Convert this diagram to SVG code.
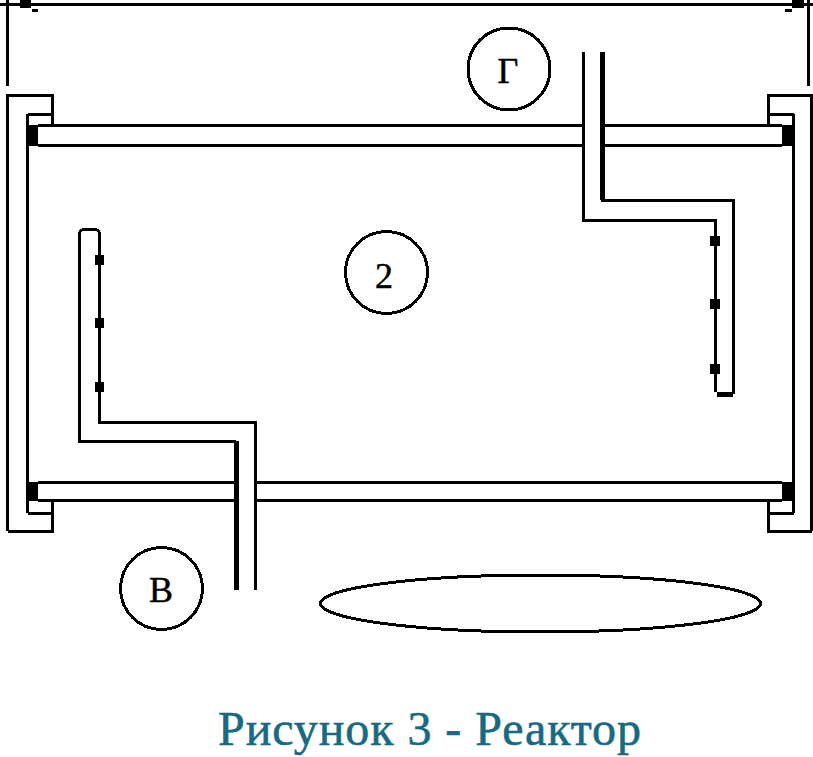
<svg xmlns="http://www.w3.org/2000/svg" width="813" height="757" viewBox="0 0 813 757">
<style>
.l{fill:none;stroke:#000;stroke-width:3;shape-rendering:crispEdges}
.t{fill:none;stroke:#000;stroke-width:5;shape-rendering:crispEdges}
.c{fill:#fff;stroke:#000;stroke-width:3;shape-rendering:crispEdges}
.b{fill:#000;shape-rendering:crispEdges}
.n{font-family:"Liberation Serif",serif;font-size:36px;text-anchor:middle;fill:#000;stroke:#000;stroke-width:.5}
.title{font-family:"Liberation Serif",serif;font-size:48px;fill:#176a82;stroke:#176a82;stroke-width:.6}
</style>
<rect width="813" height="757" fill="#fff"/>
<g id="dimension">
<path class="l" d="M0 4.500H813M7.500 0V86M808.500 0V86"/>
<rect class="b" x="20" y="0" width="11" height="8"/><rect class="b" x="32" y="9" width="6" height="3"/>
<rect class="b" x="792" y="0" width="12" height="8"/><rect class="b" x="785" y="9" width="7" height="3"/>
</g>
<g id="reactor">
<path class="l" d="M27.500 114V513M793.500 114V513"/>
<path class="l" d="M27.500 114H52.500M7.500 531V95.500H52.500V125M27.500 513H52.500M7.500 531H52.500V500"/>
<path class="l" d="M793.500 114H768.500M811.500 531V95.500H768.500V125M793.500 513H768.500M811.500 531H768.500V500"/>
<path class="l" d="M38 125.500H583M602 125.500H782M38 145.500H583M602 145.500H782M38 482.500H235M256 482.500H782M38 500.500H235M256 500.500H782"/>
<rect class="b" x="27" y="125" width="11" height="21"/><rect class="b" x="782" y="125" width="12" height="21"/>
<rect class="b" x="27" y="482" width="11" height="19"/><rect class="b" x="782" y="482" width="12" height="19"/>
</g>
<g id="connectors">
<g id="pipe-g">
<path class="l" d="M583.500 52V220.500H715.500V392"/>
<path class="t" d="M602.500 52V200"/>
<path class="l" d="M601 200.500H733.500V394"/>
<path class="t" d="M717 394.500H733"/>
<rect class="b" x="710" y="236" width="10" height="10"/><rect class="b" x="710" y="299" width="10" height="10"/><rect class="b" x="710" y="364" width="10" height="10"/>
</g>
<g id="pipe-v">
<path class="l" d="M99.500 232V422.500H255.500V590"/>
<path class="l" d="M82 229.500H97"/>
<path class="l" d="M79.500 232V441.500H236"/>
<path class="t" d="M236.500 441V590"/>
<path class="l" d="M79.500 232L82 229.500M97 229.500L99.500 232" style="shape-rendering:auto"/>
<rect class="b" x="95" y="255" width="9" height="10"/><rect class="b" x="95" y="318" width="9" height="10"/><rect class="b" x="95" y="382" width="9" height="10"/>
</g>
</g>
<g id="node-g"><circle class="c" cx="509" cy="69" r="41"/><text class="n" x="508" y="83">Г</text></g>
<g id="node-2"><circle class="c" cx="386.500" cy="272.500" r="41"/><text class="n" x="384" y="288">2</text></g>
<g id="node-v"><circle class="c" cx="161.500" cy="588.500" r="41"/><text class="n" x="161" y="602">В</text></g>
<g id="vessel"><ellipse class="c" cx="540.500" cy="603.500" rx="220" ry="28.500"/></g>
<text class="title" x="218" y="745" textLength="423" lengthAdjust="spacing">Рисунок 3 - Реактор</text>
</svg>
